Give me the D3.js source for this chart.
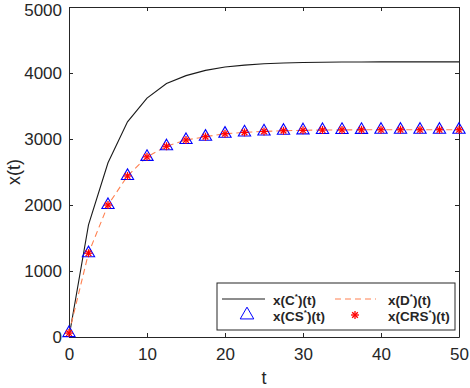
<!DOCTYPE html>
<html lang="en">
  <head>
    <meta charset="utf-8" />
    <script src="https://d3js.org/d3.v7.min.js"></script>
    <style>
      body { margin: 0; background: #fff; }
      text { font-family: Arial, "Liberation Sans", sans-serif; fill: #262626; }
    </style>
  </head>
  <body>
    <svg width="470" height="388"></svg>
    <script>
      // black curve x(C*)(t)
      const tC = [0, 2.5, 5, 7.5, 10, 12.5, 15, 17.5, 20, 22.5, 25, 27.5, 30, 32.5, 35, 37.5, 40, 42.5, 45, 47.5, 50];
      const xC = [0, 1700, 2640, 3260, 3620, 3840, 3960, 4040, 4090, 4120, 4140, 4152, 4160, 4164, 4166, 4167, 4168, 4168, 4168, 4168, 4168];
      // the three coinciding series D*, CS*, CRS*
      const tD = [0, 2.5, 5, 7.5, 10, 12.5, 15, 17.5, 20, 22.5, 25, 27.5, 30, 32.5, 35, 37.5, 40, 42.5, 45, 47.5, 50];
      const xD = [60, 1270, 2000, 2440, 2730, 2890, 2985, 3035, 3080, 3100, 3115, 3125, 3132, 3136, 3138, 3139, 3140, 3140, 3140, 3140, 3140];
      const xTicks = [0, 10, 20, 30, 40, 50];
      const yTicks = [0, 1000, 2000, 3000, 4000, 5000];

      const m = { left: 69, right: 459, top: 7, bottom: 337 };
      const svg = d3.select("svg");
      const x = d3.scaleLinear().domain([0, 50]).range([m.left, m.right]);
      const y = d3.scaleLinear().domain([0, 5000]).range([m.bottom, m.top]);
      const axisCol = "#262626";

      // axes with inward ticks, box on all sides
      const ax = (g, axis) => {
        g.call(axis);
        g.select(".domain").attr("stroke", axisCol);
        g.selectAll(".tick line").attr("stroke", axisCol);
        g.selectAll(".tick text").attr("font-size", 17).attr("fill", axisCol).attr("font-family", "Arial, 'Liberation Sans', sans-serif");
      };
      svg.append("g").attr("transform", `translate(0,${m.bottom})`)
        .call((g) => ax(g, d3.axisBottom(x).tickValues(xTicks).tickSizeInner(-4).tickSizeOuter(0).tickPadding(11).tickFormat(d3.format("d"))));
      svg.append("g").attr("transform", `translate(0,${m.top})`)
        .call((g) => ax(g, d3.axisTop(x).tickValues(xTicks).tickSizeInner(-4).tickSizeOuter(0).tickFormat("")));
      svg.append("g").attr("transform", `translate(${m.left},0)`)
        .call((g) => ax(g, d3.axisLeft(y).tickValues(yTicks).tickSizeInner(-4).tickSizeOuter(0).tickPadding(7).tickFormat(d3.format("d"))))
        .call((g) => g.selectAll(".tick text").filter((d) => d === 5000).attr("dy", "0.5em"));
      svg.append("g").attr("transform", `translate(${m.right},0)`)
        .call((g) => ax(g, d3.axisRight(y).tickValues(yTicks).tickSizeInner(-4).tickSizeOuter(0).tickFormat("")));

      svg.append("text").attr("x", x(25)).attr("y", 384).attr("text-anchor", "middle").attr("font-size", 18).text("t");
      svg.append("text").attr("transform", `translate(20,${y(2500)}) rotate(-90)`).attr("text-anchor", "middle").attr("font-size", 18).text("x(t)");

      const line = d3.line().x((d) => x(d[0])).y((d) => y(d[1]));
      svg.append("path").datum(tC.map((t, i) => [t, xC[i]])).attr("d", line)
        .attr("fill", "none").attr("stroke", "#1a1a1a").attr("stroke-width", 1.1);
      const dData = tD.map((t, i) => [t, xD[i]]);
      svg.append("path").datum(dData).attr("d", line)
        .attr("fill", "none").attr("stroke", "#ff8050").attr("stroke-width", 1.1).attr("stroke-dasharray", "6,4");

      const tri = d3.symbol().type(d3.symbolTriangle).size(65);
      svg.append("g").selectAll("path").data(dData).join("path")
        .attr("transform", (d) => `translate(${x(d[0])},${y(d[1])})`)
        .attr("d", tri).attr("fill", "none").attr("stroke", "#0000ff").attr("stroke-width", 1.1);
      const star = (g, cx, cy) => {
        const r = 4;
        [0, 45, 90, 135].forEach((a) => {
          const rad = (a * Math.PI) / 180;
          g.append("line").attr("x1", cx - r * Math.cos(rad)).attr("y1", cy - r * Math.sin(rad))
            .attr("x2", cx + r * Math.cos(rad)).attr("y2", cy + r * Math.sin(rad))
            .attr("stroke", "#ff0000").attr("stroke-width", 1.3);
        });
      };
      const stars = svg.append("g");
      dData.forEach((d) => star(stars, x(d[0]), y(d[1])));

      // legend
      const lg = svg.append("g");
      lg.append("rect").attr("x", 217).attr("y", 283).attr("width", 238).attr("height", 47)
        .attr("fill", "#fff").attr("stroke", axisCol).attr("stroke-width", 1);
      lg.append("line").attr("x1", 222).attr("x2", 265).attr("y1", 299).attr("y2", 299).attr("stroke", "#1a1a1a");
      lg.append("line").attr("x1", 335).attr("x2", 376).attr("y1", 299).attr("y2", 299)
        .attr("stroke", "#ff8050").attr("stroke-dasharray", "6,4");
      lg.append("path").attr("transform", "translate(247,315)").attr("d", d3.symbol().type(d3.symbolTriangle).size(80))
        .attr("fill", "none").attr("stroke", "#0000ff");
      star(lg, 355, 315);
      const lab = (tx, ty, pre, post) => {
        const t = lg.append("text").attr("x", tx).attr("y", ty).attr("font-size", 13.5).attr("font-weight", "bold").attr("dominant-baseline", "central");
        t.append("tspan").text(pre);
        t.append("tspan").attr("dy", -4).attr("font-size", 8).text("*");
        t.append("tspan").attr("dy", 4).text(post);
      };
      lab(273, 300, "x(C", ")(t)");
      lab(388, 300, "x(D", ")(t)");
      lab(273, 316, "x(CS", ")(t)");
      lab(388, 316, "x(CRS", ")(t)");
    </script>
  </body>
</html>
